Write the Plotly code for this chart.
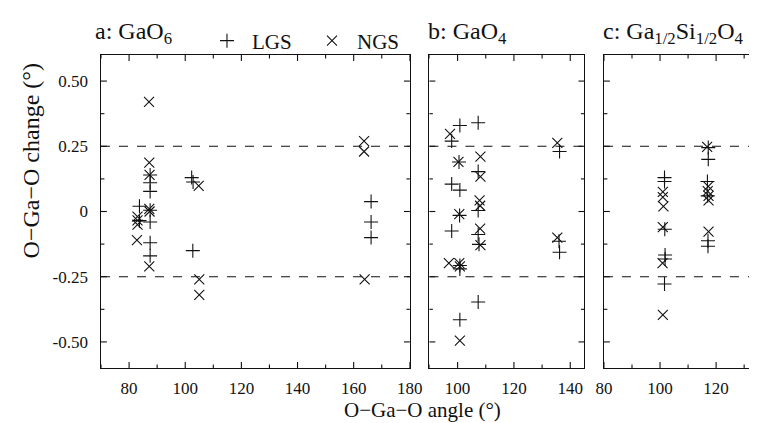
import plotly.graph_objects as go

# ---------------- data ----------------
a_lgs_x = [83.7, 83.7, 87.5, 87.5, 87.5, 87.5, 87.5, 87.5, 87.5, 102.3, 102.8, 102.7, 166.2, 166.2, 166.2]
a_lgs_y = [0.02, -0.035, 0.14, 0.11, 0.077, 0.005, -0.04, -0.12, -0.17, 0.13, 0.113, -0.15, 0.038, -0.04, -0.10]
a_ngs_x = [87.1, 87.2, 87.3, 87.2, 87.3, 87.2, 83.0, 83.0, 83.0, 82.8, 104.8, 105.0, 105.0, 163.7, 163.7, 163.9]
a_ngs_y = [0.42, 0.187, 0.14, 0.01, 0.0, -0.21, -0.02, -0.034, -0.05, -0.11, 0.098, -0.26, -0.32, 0.27, 0.23, -0.26]

b_lgs_x = [97.9, 100.8, 107.3, 100.5, 107.3, 97.9, 100.8, 107.3, 100.7, 97.9, 107.3, 107.6, 100.8, 100.8, 107.3, 100.8, 136.2, 136.0, 136.2]
b_lgs_y = [0.27, 0.33, 0.34, 0.19, 0.153, 0.105, 0.082, 0.004, -0.015, -0.075, -0.088, -0.126, -0.207, -0.22, -0.347, -0.415, 0.23, -0.114, -0.156]
b_ngs_x = [97.3, 100.3, 108.1, 108.1, 107.8, 108.0, 100.6, 108.0, 108.1, 96.9, 100.6, 100.8, 100.8, 135.4, 135.4]
b_ngs_y = [0.298, 0.19, 0.21, 0.134, 0.043, 0.022, -0.01, -0.066, -0.129, -0.198, -0.198, -0.21, -0.495, 0.263, -0.10]

c_lgs_x = [101.6, 101.6, 101.7, 101.8, 101.8, 101.6, 117.2, 117.2, 116.9, 117.0, 117.1, 117.1]
c_lgs_y = [0.13, 0.115, -0.068, -0.167, -0.182, -0.278, 0.245, 0.2, 0.115, 0.06, -0.112, -0.133]
c_ngs_x = [101.0, 101.0, 101.2, 101.0, 100.9, 101.0, 116.8, 117.2, 117.0, 117.3, 117.3, 117.3]
c_ngs_y = [0.075, 0.055, 0.02, -0.06, -0.198, -0.396, 0.248, 0.096, 0.078, 0.06, 0.043, -0.077]

y_tickvals = [-0.5, -0.25, 0, 0.25, 0.5]
y_ticktext = ["-0.50", "-0.25", "0", "0.25", "0.50"]
y_minor_vals = [-0.375, -0.125, 0.125, 0.375]
x_major_all = [80, 100, 120, 140, 160, 180]
x_minor_all = [70, 90, 110, 130, 150, 170]
ref_lines = [-0.25, 0.25]
panel_titles = ["a: GaO<sub>6</sub>", "b: GaO<sub>4</sub>", "c: Ga<sub>1/2</sub>Si<sub>1/2</sub>O<sub>4</sub>"]
x_ranges = [[70, 180], [90, 145], [80, 132.8]]

# ---------------- layout geometry ----------------
W, H = 757, 423
ML, MR, MT, MB = 93, 0, 47, 63
PW = W - ML - MR
PH = H - MT - MB
panel_px = [(93, 408), (428, 586), (606, 757)]

def dom(x0, x1):
    return [(x0 - ML) / PW, (x1 - ML) / PW]

domains = [dom(a, b) for a, b in panel_px]

FONT = "Times New Roman, Liberation Serif, serif"
INK = "#111111"
MAJ, MIN = 6, 3.5
NBSP = "\u00a0"

fig = go.Figure()

panels = [(a_lgs_x, a_lgs_y, a_ngs_x, a_ngs_y),
          (b_lgs_x, b_lgs_y, b_ngs_x, b_ngs_y),
          (c_lgs_x, c_lgs_y, c_ngs_x, c_ngs_y)]

for i, (lx, ly, nx, ny) in enumerate(panels):
    xa = "x" if i == 0 else f"x{i+1}"
    ya = "y" if i == 0 else f"y{i+1}"
    fig.add_trace(go.Scatter(
        x=lx, y=ly, mode="markers", name="LGS", xaxis=xa, yaxis=ya,
        showlegend=(i == 0), legendgroup="LGS",
        marker=dict(symbol="cross-thin", size=10, color=INK,
                    line=dict(color=INK, width=1.1))))
    fig.add_trace(go.Scatter(
        x=nx, y=ny, mode="markers", name="NGS", xaxis=xa, yaxis=ya,
        showlegend=(i == 0), legendgroup="NGS",
        marker=dict(symbol="x-thin", size=10, color=INK,
                    line=dict(color=INK, width=1.1))))

layout = dict(
    width=W, height=H,
    margin=dict(l=ML, r=MR, t=MT, b=MB),
    paper_bgcolor="white", plot_bgcolor="white",
    font=dict(family=FONT, color=INK, size=17),
    showlegend=True,
    legend=dict(orientation="h", x=(196 - ML) / PW, xanchor="left",
                y=1 + (MT - 33) / PH, yanchor="middle",
                font=dict(family=FONT, size=21, color=INK),
                bgcolor="rgba(0,0,0,0)", itemwidth=40,
                entrywidth=50, entrywidthmode="pixels"),
)

for i in range(3):
    xk = "xaxis" if i == 0 else f"xaxis{i+1}"
    yk = "yaxis" if i == 0 else f"yaxis{i+1}"
    yname = "y" if i == 0 else f"y{i+1}"
    xname = "x" if i == 0 else f"x{i+1}"
    layout[xk] = dict(
        domain=domains[i], range=x_ranges[i], anchor=yname,
        showline=True, linecolor=INK, linewidth=1.2,
        mirror=True, ticks="inside", ticklen=6, tickcolor="rgba(0,0,0,0)",
        tickvals=x_major_all, ticklabelstandoff=4,
        showgrid=False, zeroline=False,
        tickfont=dict(family=FONT, size=17, color=INK),
        fixedrange=True,
    )
    layout[yk] = dict(
        domain=[0, 1], range=[-0.6, 0.6], anchor=xname,
        showline=True, linecolor=INK, linewidth=1.2,
        mirror=(i < 2), ticks="inside", ticklen=6, tickcolor="rgba(0,0,0,0)",
        tickvals=y_tickvals, ticktext=[t + NBSP * 2 for t in y_ticktext],
        showticklabels=(i == 0),
        showgrid=False, zeroline=False,
        tickfont=dict(family=FONT, size=17, color=INK),
        fixedrange=True,
    )

fig.update_layout(**layout)

tick_line = dict(color=INK, width=1.1)
shapes = []
for i in range(3):
    xname = "x" if i == 0 else f"x{i+1}"
    yname = "y" if i == 0 else f"y{i+1}"
    lo, hi = x_ranges[i]
    pw_i = panel_px[i][1] - panel_px[i][0]
    # dashed reference lines
    for yv in ref_lines:
        shapes.append(dict(type="line", xref=f"{xname} domain", yref=yname,
                           x0=0, x1=1, y0=yv, y1=yv,
                           line=dict(color=INK, width=1.1, dash="dash")))
    # x ticks (bottom and top, inward)
    for vals, L in ((x_major_all, MAJ), (x_minor_all, MIN)):
        for v in vals:
            if lo <= v <= hi:
                for y0, y1 in ((0, L / PH), (1, 1 - L / PH)):
                    shapes.append(dict(type="line", xref=xname, yref=f"{yname} domain",
                                       x0=v, x1=v, y0=y0, y1=y1, line=tick_line))
    # y ticks (left, and right where the frame is visible)
    for vals, L in ((y_tickvals, MAJ), (y_minor_vals, MIN)):
        for v in vals:
            sides = [(0, L / pw_i)]
            if i < 2:
                sides.append((1, 1 - L / pw_i))
            elif L == MAJ:
                sides.append((1, 1 - 2.5 / pw_i))
            for x0, x1 in sides:
                shapes.append(dict(type="line", xref=f"{xname} domain", yref=yname,
                                   x0=x0, x1=x1, y0=v, y1=v, line=tick_line))
fig.update_layout(shapes=shapes)

annotations = []
title_x = [85, 424, 603]
for i in range(3):
    annotations.append(dict(text=panel_titles[i], xref="paper", yref="paper",
                            x=(title_x[i] - ML) / PW, xanchor="left",
                            y=1 + (MT - 25) / PH, yanchor="middle",
                            showarrow=False,
                            font=dict(family=FONT, size=24, color=INK)))
annotations.append(dict(text="O\u2212Ga\u2212O angle (\u00b0)", xref="paper", yref="paper",
                        x=(421 - ML) / PW, xanchor="center",
                        y=-(402 - (MT + PH)) / PH, yanchor="middle",
                        showarrow=False, font=dict(family=FONT, size=21, color=INK)))
annotations.append(dict(text="O\u2212Ga\u2212O change (\u00b0)", xref="paper", yref="paper",
                        x=-(ML - 22) / PW, xanchor="center",
                        y=1 - (153 - MT) / PH, yanchor="middle", textangle=-90,
                        showarrow=False, font=dict(family=FONT, size=24, color=INK)))
fig.update_layout(annotations=annotations)

fig.write_html("out.html")
